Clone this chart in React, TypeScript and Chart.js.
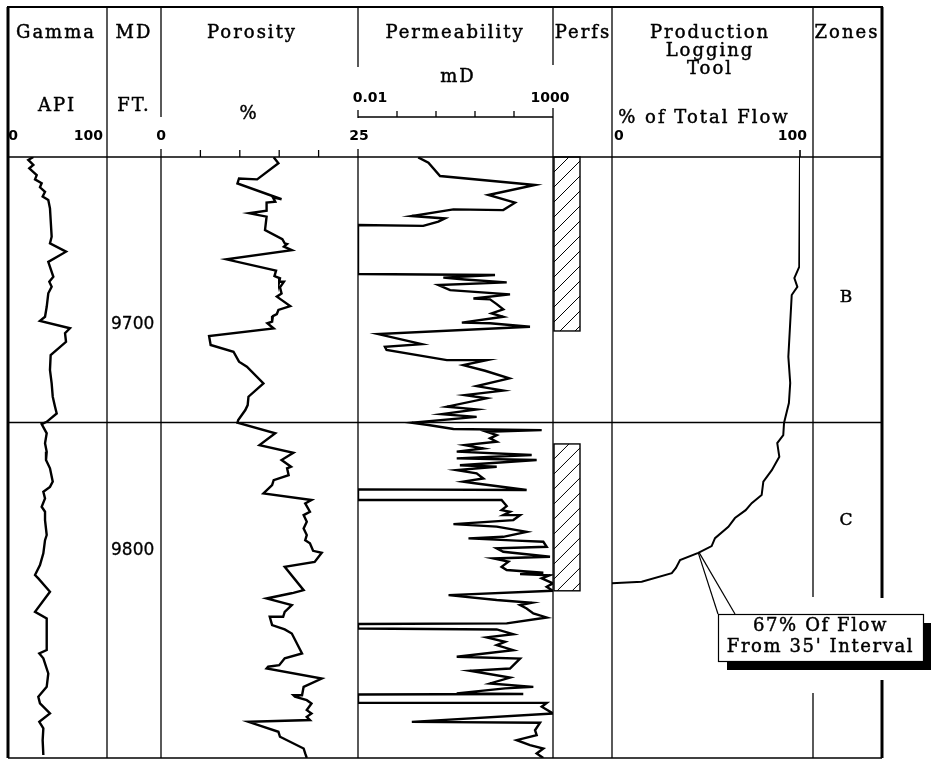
import React, { useEffect, useRef } from 'react';
import { Chart, registerables } from 'chart.js';

Chart.register(...registerables);

// ---------------- data ----------------
const DEPTH_TOP = 9626;
const DEPTH_BOTTOM = 9892;
const DEPTH_LABELS = [9700, 9800];
const ZONE_BOUNDARY = 9743.5;
const ZONE_NAMES = ['B', 'C'];
const ZONE_LABEL_DEPTHS = [9688, 9787];
const PERF_TOPS = [9626, 9753];
const PERF_BOTTOMS = [9703, 9818];

const GAMMA_DEPTH = [9626, 9627.3, 9629.5, 9631, 9634, 9635.9, 9637.6, 9639.4, 9641.4, 9643.5, 9645, 9648.7, 9653.9, 9661.3, 9664.2, 9667.9, 9672.4, 9679, 9681.2, 9683.4, 9686.3, 9692.3, 9696.7, 9698.5, 9701.8, 9704, 9707.8, 9713.7, 9720.3, 9726.2, 9732.1, 9736.5, 9739.5, 9743.2, 9744.2, 9748.3, 9752.7, 9756.5, 9760.1, 9763.8, 9769.7, 9772, 9774.2, 9777.1, 9780.8, 9783, 9786.7, 9793.3, 9795.6, 9801.4, 9806.6, 9811, 9812.5, 9818.4, 9827.3, 9830.2, 9836.8, 9844.2, 9845.7, 9847.9, 9854.6, 9860.5, 9864.9, 9867.8, 9872.3, 9876, 9878.9, 9884.1, 9890.7];
const GAMMA_API = [25.6, 20.5, 25.6, 21.5, 29, 27.3, 34, 32.3, 37.4, 35, 40.7, 42.4, 43.1, 44.1, 42.4, 58.6, 40.7, 45.8, 41.7, 44.1, 40.7, 39.1, 37.4, 32.3, 62.6, 57.6, 58.6, 43.1, 42.4, 44.1, 45.2, 47.5, 49.2, 39.1, 34, 39.1, 37.4, 39.1, 38.4, 42.4, 45.2, 42.4, 35.7, 37.4, 34, 37.4, 37.4, 39.1, 37.4, 35.7, 32.3, 27.3, 30.6, 42.4, 27.3, 39.1, 39.1, 39.1, 31.6, 35.7, 40.7, 39.1, 30.6, 32.3, 42.4, 31.6, 35.7, 35, 35.7];

const POROSITY_DEPTH = [9626.1, 9628.8, 9635.9, 9635.5, 9637.7, 9644.7, 9643.9, 9645.8, 9646.2, 9649.8, 9650.9, 9651.7, 9652.4, 9658.3, 9662.4, 9664.2, 9664.5, 9665.7, 9667.2, 9671.3, 9676.3, 9678.7, 9679.7, 9681.2, 9681.2, 9683.7, 9686.4, 9687.8, 9692, 9693.7, 9695.5, 9696.4, 9698.9, 9699.6, 9701.9, 9705.2, 9709.2, 9712.2, 9716.6, 9718.8, 9726.2, 9732.1, 9735.8, 9738, 9742.4, 9743.6, 9748.3, 9753.5, 9756.9, 9760.1, 9763.1, 9763.8, 9766.8, 9769, 9771.2, 9774.9, 9777.8, 9779.3, 9783, 9784.5, 9787.4, 9790.4, 9793.3, 9795.6, 9797, 9800.3, 9801.2, 9805.2, 9807.4, 9817.7, 9818.9, 9819.2, 9821.4, 9824.3, 9827.3, 9829.5, 9829.5, 9833.2, 9835.1, 9836.9, 9845.7, 9847.9, 9850.9, 9851.6, 9852.4, 9856.8, 9860.5, 9864.2, 9864.2, 9864.9, 9866.4, 9867.9, 9870.8, 9872.3, 9873.8, 9875.2, 9876, 9880.4, 9882.6, 9887.8, 9890, 9892];
const POROSITY_PCT = [14.3, 14.9, 12.2, 9.9, 9.7, 15.3, 14.2, 14.5, 13.4, 13.4, 11.2, 12.4, 13.4, 13.2, 15.4, 15.7, 16.0, 15.6, 16.6, 8.3, 14.6, 14.4, 15.1, 15.0, 15.6, 15.1, 15.3, 14.7, 16.4, 14.9, 14.7, 14.2, 14.1, 13.5, 14.3, 6.1, 6.3, 9.2, 9.9, 10.9, 13.0, 11.1, 11.0, 10.7, 9.8, 9.7, 14.5, 12.5, 16.8, 15.3, 16.5, 16.0, 16.2, 14.3, 14.1, 13.0, 19.1, 18.3, 18.9, 18.1, 18.5, 18.1, 18.5, 18.3, 18.9, 19.3, 20.4, 19.5, 15.7, 18.1, 16.8, 16.4, 13.4, 16.6, 15.7, 15.5, 13.8, 14.1, 15.7, 16.6, 17.9, 15.7, 15.0, 13.6, 13.4, 20.4, 18.1, 17.9, 16.8, 17.0, 18.5, 19.1, 18.5, 19.1, 18.5, 18.9, 11.1, 14.9, 15.1, 18.1, 18.3, 18.5];

const PERM_DEPTH = [9626.2, 9628.5, 9634.4, 9638.4, 9642.8, 9646.2, 9649.5, 9649.2, 9652.1, 9653.2, 9654.6, 9656.5, 9656.1, 9677.8, 9678.2, 9679.4, 9680.2, 9681.5, 9682.7, 9684.9, 9686.8, 9688.6, 9689, 9691.1, 9693.4, 9695.2, 9696.7, 9699.3, 9699.6, 9701.1, 9704.4, 9708.8, 9710, 9711.4, 9715.9, 9715.9, 9718.1, 9720.6, 9724, 9727.4, 9729.4, 9731.4, 9732.8, 9736.5, 9737.7, 9739.8, 9741, 9743.6, 9744.6, 9746.4, 9746.9, 9747.6, 9749.1, 9750.5, 9752, 9753.5, 9755, 9756.4, 9757.9, 9759.4, 9760.1, 9762.4, 9763.1, 9764.6, 9766, 9768.3, 9769.7, 9770.5, 9773.4, 9773.1, 9777.8, 9777.8, 9780.5, 9782.3, 9783, 9784.5, 9784.5, 9786.7, 9788.5, 9789.6, 9791.9, 9794.1, 9794.8, 9795.8, 9796.3, 9798.5, 9799.2, 9800.7, 9802.9, 9803.7, 9805.1, 9807.4, 9808.8, 9810, 9810.6, 9811.1, 9812.5, 9814.7, 9816.2, 9818, 9819.9, 9822.1, 9823.3, 9824.3, 9825.8, 9828, 9829.8, 9832.4, 9832.7, 9834.7, 9835.1, 9837.2, 9838.6, 9840.6, 9842, 9844.3, 9847.2, 9848, 9852.4, 9853.4, 9856.4, 9859, 9860.5, 9861.2, 9863.4, 9863.7, 9863.9, 9867.6, 9867.6, 9869.3, 9872.3, 9876, 9876.4, 9879.7, 9881.9, 9884.1, 9886.3, 9887.8, 9890, 9892];
const PERM_MD = [0.35, 0.64, 1.27, 346, 22, 106, 53, 2.8, 0.24, 1.7, 1.15, 0.47, 0.01, 0.01, 32.6, 1.54, 5.5, 65, 1.15, 2.3, 79, 9.1, 24.3, 36, 53, 26.7, 53, 4.6, 24.3, 257, 0.033, 0.43, 0.049, 0.054, 1.9, 19.9, 5.0, 18.1, 76, 11, 53, 5.5, 19.9, 1.9, 11, 1.4, 11, 0.24, 0.64, 2.8, 513, 19.9, 36, 24.3, 36, 5.5, 16.4, 3.4, 284, 3.4, 381, 4.1, 36, 3.4, 11, 16.4, 5.0, 11, 211, 0.01, 0.01, 48, 65, 48, 79, 53, 143, 96, 2.8, 36, 211, 53, 6.8, 117, 565, 689, 36, 53, 838, 29.5, 72, 48, 65, 565, 143, 838, 513, 1000, 689, 1000, 2.1, 36, 284, 143, 211, 313, 689, 65, 0.01, 0.01, 36, 96, 19.9, 59, 36, 96, 3.4, 143, 79, 7.5, 79, 24.3, 313, 59, 3.4, 173, 0.01, 0.01, 689, 513, 1000, 0.24, 465, 346, 381, 117, 257, 565, 381, 565];

const PLT_DEPTH = [9626, 9674.6, 9679.6, 9683.5, 9687.1, 9714.4, 9726, 9734.9, 9743.7, 9749.1, 9752.6, 9758.7, 9764.6, 9769.7, 9775.6, 9779.2, 9782.3, 9785.8, 9789.7, 9794.7, 9798.2, 9801.2, 9804.4, 9807.9, 9810.2, 9814, 9814.7];
const PLT_PCT = [100, 99.6, 97, 98.6, 95.6, 93.8, 94.8, 94.1, 91.5, 91.1, 87.9, 89, 85, 80.5, 79.6, 74.3, 71.1, 65.4, 61.9, 54.8, 53, 45.9, 36.2, 34, 31.8, 15.8, 0];

const CALLOUT_DEPTH = 9801.2;
const CALLOUT_PCT = 45.9;
const CALLOUT_LINES = ['67% Of Flow', "From 35' Interval"];

const PHI_TICKS = [5, 10, 15, 20];
const PERM_TICKS = [0.1, 1, 10, 100];

// ---------------- layout (pixels) ----------------
const FR = { left: 8, top: 7, right: 882, bottom: 758, head: 157 };
const TR = { gamma: [8, 107], por: [161, 358], perm: [358, 553], perfs: [553, 612], plt: [612, 800], zones: [813, 882] };
const SERIF = '"DejaVu Serif", serif';
const SANS = '"DejaVu Sans", sans-serif';

const HEADER_TEXT: [string, number, number][] = [
  ['Gamma', 56, 33], ['MD', 134, 33], ['Porosity', 252, 33], ['Permeability', 455, 33],
  ['Perfs', 583, 33], ['Production', 710, 33], ['Logging', 710, 51], ['Tool', 710, 69], ['Zones', 847, 33],
  ['API', 57, 106], ['FT.', 134, 106], ['%', 249, 114], ['mD', 458, 77], ['% of Total Flow', 704, 118],
];
const HEADER_NUMS: [string, number, number, CanvasTextAlign][] = [
  ['0', 13, 136, 'center'], ['100', 103, 136, 'right'], ['0', 161, 136, 'center'], ['25', 359, 136, 'center'],
  ['0.01', 370, 98, 'center'], ['1000', 550, 98, 'center'], ['0', 614, 136, 'left'], ['100', 807, 136, 'right'],
];

function line(ctx: CanvasRenderingContext2D, x1: number, y1: number, x2: number, y2: number, w = 1) {
  ctx.save();
  ctx.lineWidth = w;
  ctx.strokeStyle = '#000';
  ctx.beginPath();
  ctx.moveTo(x1, y1);
  ctx.lineTo(x2, y2);
  ctx.stroke();
  ctx.restore();
}

function text(ctx: CanvasRenderingContext2D, s: string, x: number, y: number, font: string, align: CanvasTextAlign = 'center', spacing = '0px', weight = 0) {
  ctx.save();
  ctx.font = font;
  ctx.fillStyle = '#000';
  ctx.strokeStyle = '#000';
  ctx.textAlign = align;
  ctx.textBaseline = 'middle';
  (ctx as any).letterSpacing = spacing;
  ctx.fillText(s, x, y);
  if (weight > 0) {
    ctx.lineWidth = weight;
    ctx.strokeText(s, x, y);
  }
  ctx.restore();
}

const logPlugin = {
  id: 'wellLog',
  afterLayout(chart: any) {
    const place = (id: string, a: number, b: number) => {
      const s = chart.scales[id];
      s.left = a; s.right = b; s.width = b - a;
      s.configure();
    };
    place('xGamma', TR.gamma[0], TR.gamma[1]);
    place('xPor', TR.por[0], TR.por[1]);
    place('xPerm', TR.perm[0], TR.perm[1]);
    place('xPlt', TR.plt[0], TR.plt[1]);
    const y = chart.scales.y;
    y.top = FR.head; y.bottom = FR.bottom; y.height = FR.bottom - FR.head;
    y.configure();
  },
  beforeDatasetsDraw(chart: any) {
    const ctx: CanvasRenderingContext2D = chart.ctx;
    const ys = chart.scales.y;
    ctx.save();
    ctx.fillStyle = '#fff';
    ctx.fillRect(0, 0, chart.width, chart.height);
    ctx.restore();

    // horizontal lines
    line(ctx, FR.left, FR.head, FR.right, FR.head, 1.6);
    const yz = ys.getPixelForValue(ZONE_BOUNDARY);
    line(ctx, FR.left, yz, FR.right, yz, 1.6);
    line(ctx, FR.left, FR.bottom, FR.right, FR.bottom, 1.6);

    // vertical dividers
    line(ctx, 107, FR.top, 107, FR.bottom, 1.3);
    line(ctx, 161, FR.top, 161, 117, 1.3);
    line(ctx, 161, 149, 161, FR.bottom, 1.3);
    line(ctx, 358, FR.top, 358, 67, 1.3);
    line(ctx, 358, 110, 358, 118, 1.3);
    line(ctx, 358, 149, 358, FR.bottom, 1.3);
    line(ctx, 553, FR.top, 553, 65, 1.3);
    line(ctx, 553, 108, 553, FR.bottom, 1.3);
    line(ctx, 612, FR.top, 612, FR.bottom, 1.3);
    line(ctx, 813, FR.top, 813, 597, 1.3);
    line(ctx, 813, 693, 813, FR.bottom, 1.3);

    // porosity ticks
    const xp = chart.scales.xPor;
    PHI_TICKS.forEach((v) => {
      const x = xp.getPixelForValue(v);
      line(ctx, x, 150, x, FR.head, 1.3);
    });
    // permeability scale bar
    const xk = chart.scales.xPerm;
    line(ctx, 358, 117, 553, 117, 1.4);
    PERM_TICKS.forEach((v) => {
      const x = xk.getPixelForValue(v);
      line(ctx, x, 111, x, 117, 1.3);
    });
    // PLT 100 tick
    const xq = chart.scales.xPlt;
    line(ctx, xq.getPixelForValue(100), 150, xq.getPixelForValue(100), FR.head, 1.6);

    // header text
    HEADER_TEXT.forEach(([s, x, y]) => text(ctx, s, x, y, `18px ${SERIF}`, 'center', '2px', 0.45));
    HEADER_NUMS.forEach(([s, x, y, a]) => text(ctx, s, x, y, `bold 14px ${SANS}`, a));
  },
  afterDatasetsDraw(chart: any) {
    const ctx: CanvasRenderingContext2D = chart.ctx;
    const ys = chart.scales.y;

    // perforations
    PERF_TOPS.forEach((t, i) => {
      const y0 = ys.getPixelForValue(t);
      const y1 = ys.getPixelForValue(PERF_BOTTOMS[i]);
      const x0 = TR.perfs[0] + 1;
      const w = 26;
      ctx.save();
      ctx.beginPath();
      ctx.rect(x0, y0, w, y1 - y0);
      ctx.clip();
      ctx.lineWidth = 1;
      ctx.strokeStyle = '#000';
      for (let c = y0 - w; c <= y1 + w; c += 15) {
        ctx.beginPath();
        ctx.moveTo(x0, c + w);
        ctx.lineTo(x0 + w, c);
        ctx.stroke();
      }
      ctx.restore();
      ctx.save();
      ctx.lineWidth = 1.4;
      ctx.strokeStyle = '#000';
      ctx.strokeRect(x0, y0, w, y1 - y0);
      ctx.restore();
    });

    // depth labels
    DEPTH_LABELS.forEach((d) => text(ctx, String(d), 111, ys.getPixelForValue(d), `17px ${SANS}`, 'left', '0px', 0.3));
    // zone labels
    ZONE_NAMES.forEach((z, i) => text(ctx, z, 846, ys.getPixelForValue(ZONE_LABEL_DEPTHS[i]), `17px ${SERIF}`, 'center', '0px', 0.45));

    // outer frame
    line(ctx, FR.left - 1, FR.top, FR.right + 1, FR.top, 2.2);
    line(ctx, FR.left, FR.top, FR.left, FR.bottom, 3);
    line(ctx, FR.right, FR.top, FR.right, 598, 3);
    line(ctx, FR.right, 680, FR.right, FR.bottom, 3);

    // callout
    const ax = chart.scales.xPlt.getPixelForValue(CALLOUT_PCT);
    const ay = ys.getPixelForValue(CALLOUT_DEPTH);
    const bx = 718, by = 614, bw = 205, bh = 47;
    line(ctx, ax, ay, bx, by, 1.2);
    line(ctx, ax + 1, ay, bx + 17, by, 1.2);
    ctx.save();
    ctx.fillStyle = '#000';
    ctx.fillRect(bx + 9, by + 9, bw + 20, bh);
    ctx.fillStyle = '#fff';
    ctx.fillRect(bx, by, bw, bh);
    ctx.lineWidth = 1.2;
    ctx.strokeStyle = '#000';
    ctx.strokeRect(bx + 0.5, by + 0.5, bw, bh);
    ctx.restore();
    text(ctx, CALLOUT_LINES[0], bx + bw / 2, by + 12, `18px ${SERIF}`, 'center', '1.6px', 0.45);
    text(ctx, CALLOUT_LINES[1], bx + bw / 2, by + 33, `18px ${SERIF}`, 'center', '1.6px', 0.45);
  },
};

function series(depths: number[], vals: number[]) {
  return depths.map((d, i) => ({ x: vals[i], y: d }));
}

export default function App() {
  const ref = useRef<HTMLCanvasElement | null>(null);
  useEffect(() => {
    if (!ref.current) return;
    const common = { showLine: true, borderColor: '#000', pointRadius: 0, tension: 0, yAxisID: 'y', fill: false, borderJoinStyle: 'miter' };
    const chart = new Chart(ref.current, {
      type: 'scatter',
      data: {
        datasets: [
          { ...common, label: 'Gamma', data: series(GAMMA_DEPTH, GAMMA_API), xAxisID: 'xGamma', borderWidth: 2.4 },
          { ...common, label: 'Porosity', data: series(POROSITY_DEPTH, POROSITY_PCT), xAxisID: 'xPor', borderWidth: 2.4 },
          { ...common, label: 'Permeability', data: series(PERM_DEPTH, PERM_MD), xAxisID: 'xPerm', borderWidth: 2.4 },
          { ...common, label: 'PLT', data: series(PLT_DEPTH, PLT_PCT), xAxisID: 'xPlt', borderWidth: 2 },
        ] as any,
      },
      options: {
        responsive: false,
        animation: false,
        events: [],
        layout: { padding: { left: FR.left, top: FR.head, right: 931 - FR.right, bottom: 760 - FR.bottom } },
        plugins: { legend: { display: false }, tooltip: { enabled: false } },
        scales: {
          y: { type: 'linear', axis: 'y', reverse: true, min: DEPTH_TOP, max: DEPTH_BOTTOM, display: false },
          xGamma: { type: 'linear', axis: 'x', min: 0, max: 100, display: false },
          xPor: { type: 'linear', axis: 'x', min: 0, max: 25, display: false },
          xPerm: { type: 'logarithmic', axis: 'x', min: 0.01, max: 1000, display: false },
          xPlt: { type: 'linear', axis: 'x', min: 0, max: 100, display: false },
        } as any,
      },
      plugins: [logPlugin as any],
    });
    return () => chart.destroy();
  }, []);
  return (
    <div style={{ position: 'absolute', left: 0, top: 0, width: 931, height: 760, background: '#fff' }}>
      <canvas ref={ref} width={931} height={760} style={{ display: 'block' }} />
    </div>
  );
}
